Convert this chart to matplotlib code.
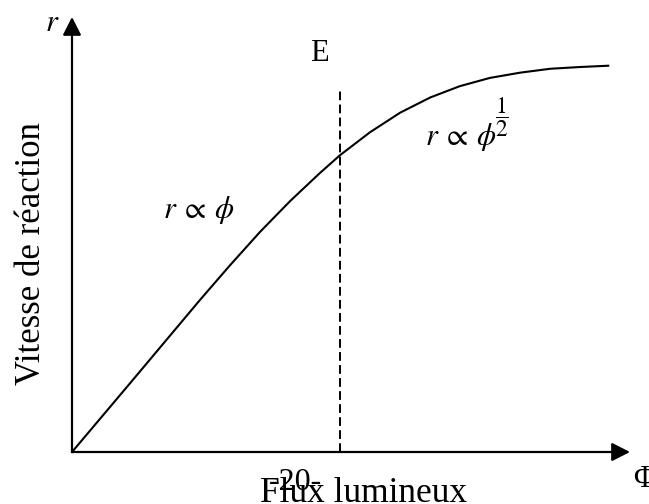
import matplotlib

matplotlib.use("Agg")
import matplotlib.pyplot as plt

plt.rcParams["font.family"] = ["Liberation Serif", "DejaVu Serif"]
plt.rcParams["mathtext.fontset"] = "stix"

# curve (arbitrary units)
flux = [0, 1.04, 2.29, 2.83, 3.37, 3.91, 4.44, 4.80, 5.34, 5.88, 6.42, 6.95,
        7.49, 8.03, 8.57, 9.10, 9.61]
rate = [0, 1.58, 3.49, 4.29, 5.06, 5.77, 6.41, 6.82, 7.35, 7.80, 8.15, 8.41,
        8.60, 8.72, 8.81, 8.85, 8.88]
e_flux = 4.80
e_top = 8.37

fig = plt.figure(figsize=(6.49, 5.04), dpi=100)
ax = fig.add_axes([72 / 649, 52 / 504, 558 / 649, 435 / 504])
ax.set_xlim(0, 10)
ax.set_ylim(0, 10)
ax.axis("off")

arrow = dict(arrowstyle="-|>,head_length=0.55,head_width=0.28", lw=1.6, color="black",
             mutation_scale=20, shrinkA=0, shrinkB=0)
ax.annotate("", xy=(1, 0), xytext=(0, 0), xycoords="axes fraction", arrowprops=arrow)
ax.annotate("", xy=(0, 1), xytext=(0, 0), xycoords="axes fraction", arrowprops=arrow)

ax.plot(flux, rate, color="black", linewidth=1.5, solid_joinstyle="round", clip_on=False)
ax.plot([e_flux, e_flux], [0, e_top], color="black", linewidth=1.4, dashes=(4.5, 2.2))

ax.text(-0.36, 9.84, r"$r$", fontsize=22, ha="center", va="center")
ax.text(4.44, 9.17, "E", fontsize=22, ha="center", va="center")
ax.text(2.28, 5.56, r"$r\:\propto\:\phi$", fontsize=22, ha="center", va="center")
ax.text(6.33, 7.06, r"$r\:\propto\:\phi$", fontsize=22, ha="left", va="baseline")
ax.text(7.71, 7.70, r"$\dfrac{1}{2}$", fontsize=17, ha="center", va="center")
ax.text(-0.73, 4.57, "Vitesse de réaction", fontsize=25, rotation=90,
        ha="center", va="center", clip_on=False)
ax.text(5.22, -1.15, "Flux lumineux", fontsize=25.5, ha="center", va="baseline")
ax.text(4.01, -0.87, "-20-", fontsize=23, ha="center", va="baseline")
ax.text(10.25, -0.64, "Φ", fontsize=22, ha="center", va="center")

fig.savefig("out.png", dpi=100)
